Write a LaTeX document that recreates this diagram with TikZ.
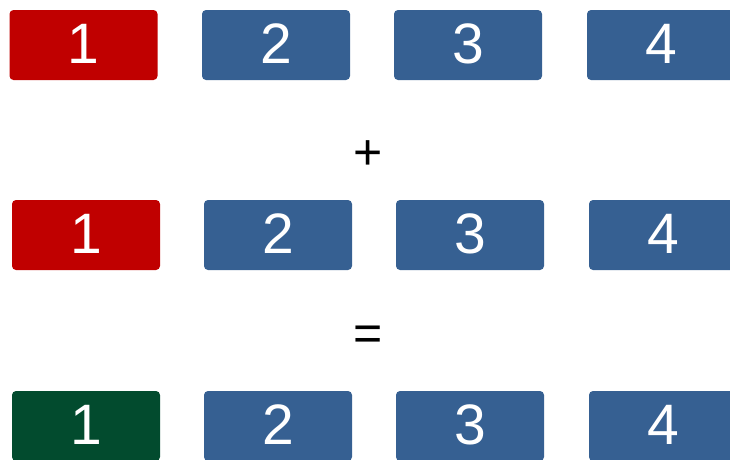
\documentclass[tikz,border=0pt]{standalone}
\usepackage{fontspec}
\setmainfont{Liberation Sans}
\definecolor{cred}{RGB}{192,0,0}
\definecolor{cblue}{RGB}{54,96,146}
\definecolor{cgreen}{RGB}{2,75,46}
\begin{document}
\begin{tikzpicture}[x=1pt,y=-1pt,
  cell/.style={rectangle,rounded corners=4pt,minimum width=148pt,minimum height=70pt,inner sep=0pt},
  redcell/.style={cell,fill=cred},
  bluecell/.style={cell,fill=cblue},
  greencell/.style={cell,fill=cgreen},
  digit/.style={anchor=base,inner sep=0pt,text=white,font=\fontsize{57}{57}\selectfont},
  op/.style={anchor=base,inner sep=0pt,font=\fontsize{50}{50}\selectfont}]
\useasboundingbox (0,0) rectangle (730,459);
\begin{scope}
\clip (0,0) rectangle (730,459);
\node[redcell] (a1) at (83.5,45) {};
\node[bluecell] (a2) at (276,45) {};
\node[bluecell] (a3) at (468,45) {};
\node[bluecell] (a4) at (661,45) {};
\node[digit] at ([yshift=-18.5pt]a1.center) {1};
\node[digit] at ([yshift=-18.5pt]a2.center) {2};
\node[digit] at ([yshift=-18.5pt]a3.center) {3};
\node[digit] at ([yshift=-18.5pt]a4.center) {4};
\node[op] (plus) at (368,169) {+};
\node[redcell] (b1) at (86,235) {};
\node[bluecell] (b2) at (278,235) {};
\node[bluecell] (b3) at (470,235) {};
\node[bluecell] (b4) at (663,235) {};
\node[digit] at ([yshift=-18.5pt]b1.center) {1};
\node[digit] at ([yshift=-18.5pt]b2.center) {2};
\node[digit] at ([yshift=-18.5pt]b3.center) {3};
\node[digit] at ([yshift=-18.5pt]b4.center) {4};
\node[op] (eq) at (368,350) {=};
\node[greencell] (c1) at (86,426) {};
\node[bluecell] (c2) at (278,426) {};
\node[bluecell] (c3) at (470,426) {};
\node[bluecell] (c4) at (663,426) {};
\node[digit] at ([yshift=-18.5pt]c1.center) {1};
\node[digit] at ([yshift=-18.5pt]c2.center) {2};
\node[digit] at ([yshift=-18.5pt]c3.center) {3};
\node[digit] at ([yshift=-18.5pt]c4.center) {4};
\end{scope}
\end{tikzpicture}
\end{document}
